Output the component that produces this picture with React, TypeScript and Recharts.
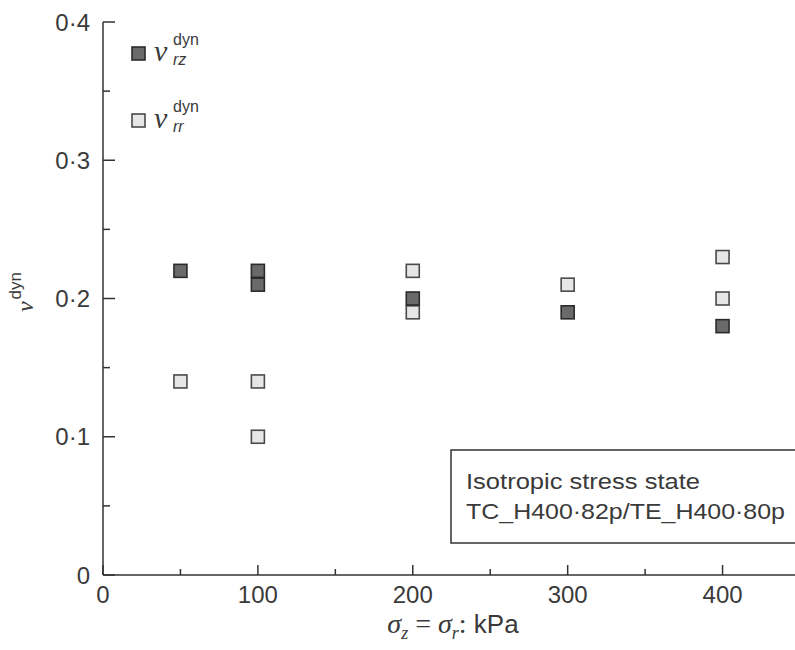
import React from 'react'
import { ScatterChart, Scatter, XAxis, YAxis } from 'recharts'

// dynamic Poisson's ratio vs. isotropic confining stress
const stressRz = [50, 100, 100, 200, 300, 400]
const nuRz = [0.22, 0.22, 0.21, 0.2, 0.19, 0.18]
const stressRr = [50, 100, 100, 200, 200, 300, 400, 400]
const nuRr = [0.14, 0.14, 0.1, 0.22, 0.19, 0.21, 0.23, 0.2]

const xTicks = [0, 50, 100, 150, 200, 250, 300, 350, 400]
const yTicks = [0, 0.05, 0.1, 0.15, 0.2, 0.25, 0.3, 0.35, 0.4]
const noteLines = ['Isotropic stress state', 'TC_H400·82p/TE_H400·80p']

const SANS = '"Liberation Sans", Arial, sans-serif'
const SERIF = '"Liberation Serif", "Times New Roman", serif'
const INK = '#333'
const TEXT = '#3a3a3a'

const DARK = { fill: '#6a6a6a', stroke: '#2b2b2b' }
const LIGHT = { fill: '#e6e6e6', stroke: '#4a4a4a' }

const rzPoints = stressRz.map((x, i) => ({ x, y: nuRz[i] }))
const rrPoints = stressRr.map((x, i) => ({ x, y: nuRr[i] }))

const square = (style: { fill: string; stroke: string }) => (props: any) => (
  <rect
    x={props.cx - 6.5}
    y={props.cy - 6.5}
    width={13}
    height={13}
    fill={style.fill}
    stroke={style.stroke}
    strokeWidth={1.6}
  />
)

const fmt = (v: number) => (v === 0 ? '0' : v.toFixed(1).replace('.', '·'))

// ticks point inwards, so draw line + label ourselves
const YTick = ({ x, y, payload }: any) => {
  const major = Math.round(payload.value * 100) % 10 === 0
  return (
    <g>
      <line x1={x} x2={x + (major ? 12 : 7)} y1={y} y2={y} stroke={INK} strokeWidth={1.5} />
      {major && (
        <text x={x - 13} y={y} dy="0.36em" textAnchor="end" fontFamily={SANS} fontSize={24} fill={TEXT}>
          {fmt(payload.value)}
        </text>
      )}
    </g>
  )
}

const XTick = ({ x, y, payload }: any) => {
  const major = payload.value % 100 === 0
  return (
    <g>
      <line x1={x} x2={x} y1={y} y2={y - (major ? 10 : 6)} stroke={INK} strokeWidth={1.5} />
      {major && (
        <text x={x} y={y + 28} textAnchor="middle" fontFamily={SANS} fontSize={24} fill={TEXT}>
          {payload.value}
        </text>
      )}
    </g>
  )
}

const LegendItem = ({ y, sub, style }: { y: number; sub: string; style: { fill: string; stroke: string } }) => (
  <g>
    <rect x={132} y={y - 6} width={13} height={13} fill={style.fill} stroke={style.stroke} strokeWidth={1.6} />
    <text x={154} y={y + 8} fill={TEXT}>
      <tspan fontFamily={SERIF} fontStyle="italic" fontSize={30}>ν</tspan>
      <tspan x={173} dy={-16} fontFamily={SANS} fontSize={16}>dyn</tspan>
      <tspan x={173} dy={20} fontFamily={SANS} fontStyle="italic" fontSize={16}>{sub}</tspan>
    </text>
  </g>
)

export default function App() {
  return (
    <div style={{ position: 'absolute', left: 0, top: 0, width: 795, height: 650, overflow: 'hidden', background: '#fff' }}>
      <ScatterChart width={800} height={650} margin={{ top: 22, right: 0, bottom: 0, left: 0 }}>
        <XAxis
          type="number"
          dataKey="x"
          domain={[0, 450]}
          ticks={xTicks}
          interval={0}
          height={75}
          tickSize={0}
          tickMargin={0}
          tickLine={false}
          tick={<XTick />}
          axisLine={{ stroke: INK, strokeWidth: 1.5 }}
        />
        <YAxis
          type="number"
          dataKey="y"
          domain={[0, 0.4]}
          ticks={yTicks}
          interval={0}
          width={103}
          tickSize={0}
          tickMargin={0}
          tickLine={false}
          tick={<YTick />}
          axisLine={{ stroke: INK, strokeWidth: 1.5 }}
        />
        <Scatter name="rr" data={rrPoints} shape={square(LIGHT)} isAnimationActive={false} />
        <Scatter name="rz" data={rzPoints} shape={square(DARK)} isAnimationActive={false} />
      </ScatterChart>

      <svg width={795} height={650} style={{ position: 'absolute', left: 0, top: 0, pointerEvents: 'none' }}>
        <LegendItem y={53} sub="rz" style={DARK} />
        <LegendItem y={120} sub="rr" style={LIGHT} />

        <text transform="translate(33, 292) rotate(-90)" textAnchor="middle" fill={TEXT}>
          <tspan fontFamily={SERIF} fontStyle="italic" fontSize={24}>ν</tspan>
          <tspan fontFamily={SANS} fontSize={17} dx={2} dy={-12}>dyn</tspan>
        </text>

        <text x={453} y={633} textAnchor="middle" fill={TEXT}>
          <tspan fontFamily={SERIF} fontStyle="italic" fontSize={28}>σ</tspan>
          <tspan fontFamily={SERIF} fontStyle="italic" fontSize={18} dy={6}>z</tspan>
          <tspan fontFamily={SERIF} fontSize={28} dy={-6}> = </tspan>
          <tspan fontFamily={SERIF} fontStyle="italic" fontSize={28}>σ</tspan>
          <tspan fontFamily={SERIF} fontStyle="italic" fontSize={18} dy={6}>r</tspan>
          <tspan fontFamily={SERIF} fontSize={28} dy={-6}>:</tspan>
          <tspan fontFamily={SANS} fontSize={26}> kPa</tspan>
        </text>

        <rect x={451} y={450} width={400} height={93} fill="#fff" stroke={INK} strokeWidth={1.5} />
        <text x={466} y={489} fontFamily={SANS} fontSize={22} fill={TEXT} textLength={234} lengthAdjust="spacingAndGlyphs">
          {noteLines[0]}
        </text>
        <text x={466} y={519} fontFamily={SANS} fontSize={22} fill={TEXT} textLength={319} lengthAdjust="spacingAndGlyphs">
          {noteLines[1]}
        </text>
      </svg>
    </div>
  )
}
